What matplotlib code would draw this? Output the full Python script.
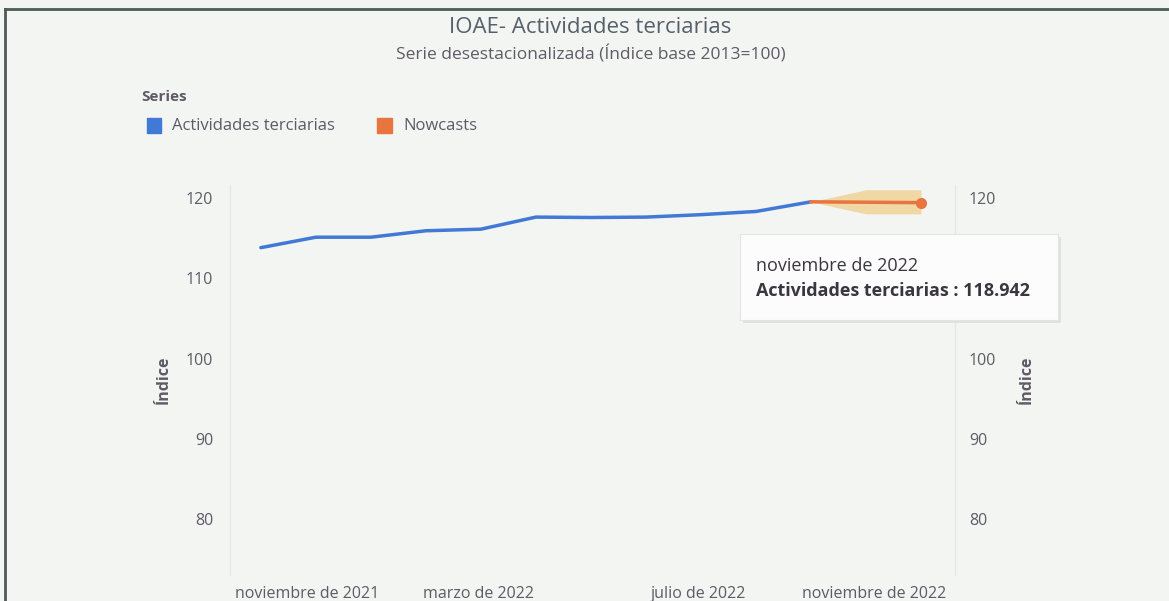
import matplotlib.pyplot as plt
from matplotlib.patches import Rectangle
from matplotlib.lines import Line2D

# datos (índice mensual, noviembre 2021 = 0)
meses_obs = [0, 1, 2, 3, 4, 5, 6, 7, 8, 9, 10]
valores_obs = [113.8, 115.1, 115.1, 115.9, 116.1, 117.6, 117.55, 117.6, 117.9, 118.3, 119.5]
meses_now = [10, 11, 12]
valores_now = [119.5, 119.45, 119.4]
banda_inf = [119.5, 118.0, 118.0]
banda_sup = [119.5, 121.0, 121.0]
tick_pos = [0.85, 3.95, 7.95, 11.15]
tick_lab = ["noviembre de 2021", "marzo de 2022", "julio de 2022", "noviembre de 2022"]
y_ticks = [80, 90, 100, 110, 120]
y_ticks_der = [80, 90, 100, 120]   # el 110 derecho queda tapado por el tooltip

plt.rcParams['font.family'] = ['Open Sans', 'DejaVu Sans']
gris = "#5f5a66"
azul = "#4279d6"
naranja = "#e8743f"
fondo = "#f3f5f3"

fig = plt.figure(figsize=(11.69, 6.01), dpi=100, facecolor=fondo)

# marco superior e izquierdo
fig.add_artist(Line2D([0.004, 1.0], [0.985, 0.985], color="#4d5a5a", lw=2))
fig.add_artist(Line2D([0.0045, 0.0045], [0.0, 0.985], color="#4d5a5a", lw=2))

fig.text(0.505, 0.955, "IOAE- Actividades terciarias", ha="center", va="center",
         fontsize=16, color="#56606a")
fig.text(0.505, 0.91, "Serie desestacionalizada (Índice base 2013=100)", ha="center",
         va="center", fontsize=12.5, color=gris)

# leyenda
fig.text(0.121, 0.838, "Series", fontsize=11, fontweight="bold", color=gris, va="center")
fig.add_artist(Rectangle((0.1255, 0.779), 0.0125, 0.025, transform=fig.transFigure,
                         color=azul))
fig.text(0.147, 0.791, "Actividades terciarias", fontsize=12, color=gris, va="center")
fig.add_artist(Rectangle((0.3225, 0.779), 0.0125, 0.025, transform=fig.transFigure,
                         color=naranja))
fig.text(0.345, 0.791, "Nowcasts", fontsize=12, color=gris, va="center")

ax = fig.add_axes([0.1968, 0.0433, 0.6202, 0.649])
ax.set_facecolor("none")
ax.fill_between(meses_now, banda_inf, banda_sup, color="#f0cf8a", alpha=0.75, lw=0)
ax.plot(meses_obs, valores_obs, color=azul, lw=2.5, solid_capstyle="round")
ax.plot(meses_now, valores_now, color=naranja, lw=2.5)
ax.plot(meses_now[-1], valores_now[-1], "o", color=naranja, ms=7)

ax.set_xlim(-0.56, 12.62)
ax.set_ylim(73.1, 121.6)
ax.set_yticks(y_ticks)
ax.set_xticks(tick_pos)
ax.set_xticklabels(tick_lab)
ax.tick_params(axis="x", length=0, pad=8, labelsize=11.5, labelcolor=gris)
ax.tick_params(axis="y", length=0, pad=12, labelsize=11.5, labelcolor=gris)
for s in ["top", "bottom"]:
    ax.spines[s].set_visible(False)
for s in ["left", "right"]:
    ax.spines[s].set_color("#e6e9e2")
    ax.spines[s].set_linewidth(1)
ax.set_ylabel("Índice", fontsize=11.5, fontweight="bold", color=gris, labelpad=10)

ax2 = ax.twinx()
ax2.set_ylim(ax.get_ylim())
ax2.set_yticks(y_ticks_der)
ax2.tick_params(axis="y", length=0, pad=10, labelsize=11.5, labelcolor=gris)
for s in ax2.spines.values():
    s.set_visible(False)
ax2.set_ylabel("Índice", fontsize=11.5, fontweight="bold", color=gris, labelpad=16)

# tooltip
fig.add_artist(Rectangle((0.636, 0.463), 0.272, 0.143, transform=fig.transFigure,
                         facecolor="#dfe2de", edgecolor="none", zorder=4))
fig.add_artist(Rectangle((0.633, 0.468), 0.272, 0.143, transform=fig.transFigure,
                         facecolor="#fbfcfb", edgecolor="#e3e5e1", lw=0.8, zorder=5))
fig.text(0.647, 0.558, "noviembre de 2022", fontsize=13, color="#3b3540", va="center",
         zorder=6)
fig.text(0.647, 0.516, "Actividades terciarias : 118.942", fontsize=13,
         fontweight="bold", color="#3b3540", va="center", zorder=6)

fig.savefig("out.png", dpi=100, facecolor=fondo)
